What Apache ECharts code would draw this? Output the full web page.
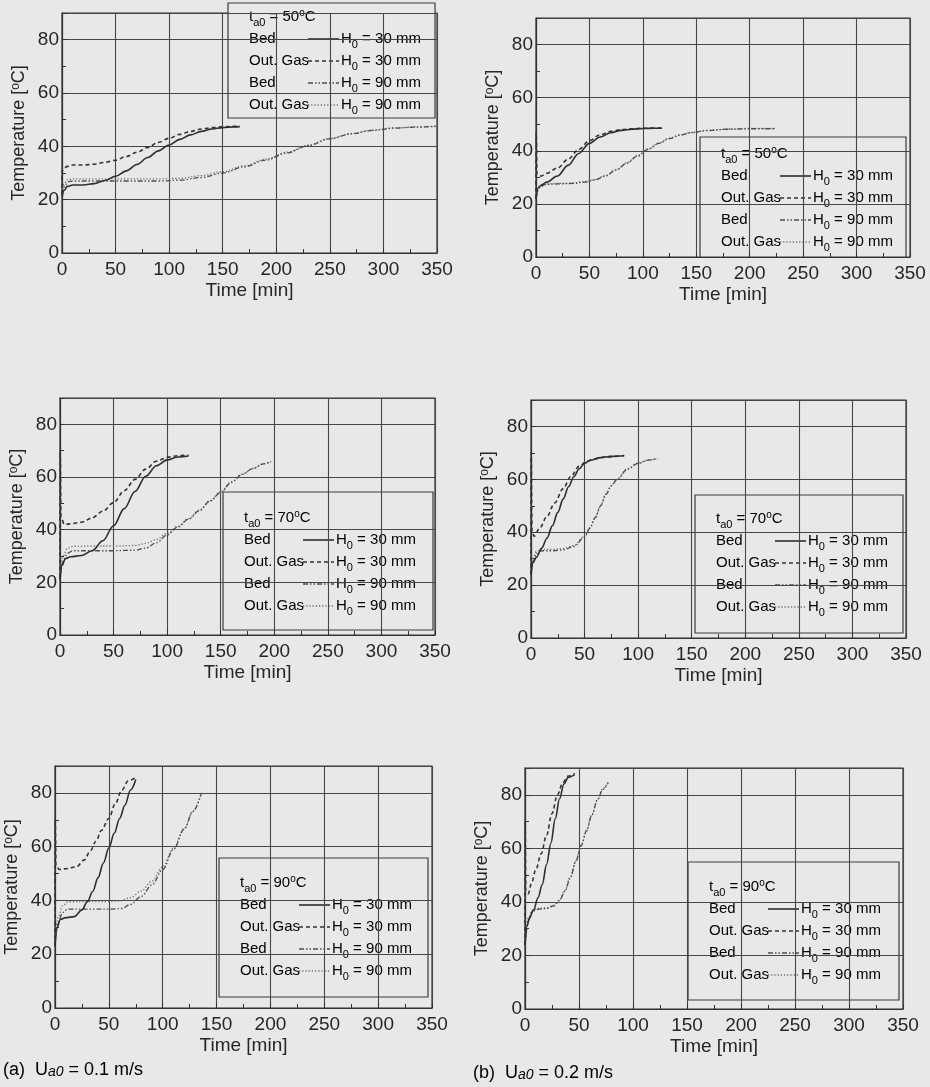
<!DOCTYPE html>
<html><head><meta charset="utf-8">
<script src="https://cdn.jsdelivr.net/npm/echarts@6/dist/echarts.min.js"></script>
<style>html,body{margin:0;padding:0;background:#e8e8e6;} #c{width:930px;height:1087px;}</style>
</head><body><div id="c"></div>
<script>
// ---------- data (time [min], temperature [°C]) ----------
const rowLabels = ['Bed', 'Out. Gas', 'Bed', 'Out. Gas'];
const bedHeights = ['30', '30', '90', '90'];
const inletTemps = [50, 50, 70, 70, 90, 90];
const captions = [['(a)', '0.1'], ['(b)', '0.2']];

// (a) U=0.1 m/s, t=50
const a50_bed30 = [[0,21],[2,23.5],[5,25],[10,25.5],[20,25.5],[30,26],[40,27.2],[50,28.8],[60,30.8],[70,33.2],[80,35.8],[90,38.3],[100,40.5],[110,42.6],[120,44.3],[130,45.6],[140,46.5],[150,47],[160,47.3],[166,47.4]];
const a50_gas30 = [[0,22],[0.3,31],[1.5,31.8],[5,32.5],[10,33],[20,33],[30,33.3],[40,34],[50,34.8],[60,36.2],[70,37.8],[80,39.6],[90,41.5],[100,43],[110,44.5],[120,45.6],[130,46.5],[140,47],[150,47.3],[160,47.5],[166,47.5]];
const a50_bed90 = [[0,22],[3,25.5],[6,26.8],[10,27],[30,27],[60,27],[90,27],[110,27.3],[130,28.3],[150,30],[170,32.3],[190,34.8],[210,37.5],[230,40.3],[250,42.8],[270,44.7],[290,46],[310,46.8],[330,47.2],[350,47.5]];
const a50_gas90 = [[0,23],[2,26],[5,27.5],[10,27.8],[30,27.8],[60,27.8],[90,27.8],[110,28],[130,29],[150,30.5],[170,32.7],[190,35.2],[210,37.8],[230,40.5],[250,43],[270,44.8],[290,46.1],[310,46.9],[330,47.3],[350,47.6]];
// (b) U=0.2 m/s, t=50
const b50_bed30 = [[0,22],[2,26],[5,27],[10,28.2],[20,30.5],[30,34.5],[40,39],[50,42.8],[60,45.2],[70,46.8],[80,47.7],[90,48.1],[100,48.4],[110,48.5],[118,48.5]];
const b50_gas30 = [[0,22],[0.2,47],[0.9,31],[5,30.5],[10,31.5],[20,33.5],[30,36.8],[40,40.5],[50,43.8],[60,46],[70,47.3],[80,48],[90,48.3],[100,48.5],[118,48.6]];
const b50_bed90 = [[0,22],[3,26],[8,27.3],[20,27.5],[35,27.7],[45,28.2],[55,29],[65,30.5],[75,32.7],[85,35.3],[95,38],[105,40.5],[115,42.8],[125,44.6],[135,45.9],[145,46.8],[160,47.6],[180,48.1],[200,48.3],[224,48.3]];
const b50_gas90 = [[0,23],[2,26.5],[6,27.5],[20,27.7],[35,27.9],[45,28.4],[55,29.2],[65,30.7],[75,32.9],[85,35.5],[95,38.2],[105,40.7],[115,43],[125,44.8],[135,46],[145,46.9],[160,47.7],[180,48.2],[200,48.4],[224,48.4]];
// (a) t=70
const a70_bed30 = [[0,21],[2,26.5],[5,29],[10,29.7],[20,30.2],[30,32],[40,35.8],[50,41.5],[60,48],[70,54.5],[80,60.3],[90,64.3],[100,66.5],[110,67.6],[120,68]];
const a70_gas30 = [[0,22],[0.2,70],[0.9,45],[4,42],[10,42.2],[20,42.8],[30,44.5],[40,47],[50,50.3],[60,54.8],[70,59.1],[80,63],[90,66],[100,67.5],[110,68.1],[120,68.3]];
const a70_bed90 = [[0,21],[3,28],[7,31],[12,32],[30,32],[50,32],[70,32.2],[80,33],[90,35],[100,38],[110,41],[120,44],[130,47.2],[140,50.8],[150,54.2],[160,58],[170,61],[180,63.2],[190,65],[197,65.8]];
const a70_gas90 = [[0,23],[3,30],[7,33],[12,33.7],[30,33.8],[50,33.8],[70,34],[80,34.8],[90,36.3],[100,38.6],[110,41.3],[120,44.2],[130,47.4],[140,51],[150,54.4],[160,58.1],[170,61.1],[180,63.3],[190,65.1],[197,65.9]];
// (b) t=70
const b70_bed30 = [[0,24],[2,28.5],[5,30.5],[10,34],[15,37.8],[20,42.5],[25,47.5],[30,52.5],[35,57.2],[40,61],[45,64],[50,66],[55,67.2],[65,68.2],[75,68.7],[87,68.9]];
const b70_gas30 = [[0,24],[0.2,70],[0.9,40],[3,38.5],[8,41.5],[15,46],[22,51],[30,56.5],[37,61],[45,65],[52,66.8],[60,67.8],[70,68.5],[87,69]];
const b70_bed90 = [[0,23],[2,29],[5,32],[10,33],[20,33],[30,33.3],[40,34.6],[50,38.2],[55,41.5],[60,45.5],[65,50],[70,54.3],[75,57.5],[80,59.8],[90,63.8],[100,66],[110,67.3],[118,67.8]];
const b70_gas90 = [[0,24],[2,30],[5,32.8],[10,33.5],[20,33.5],[30,33.8],[40,35],[50,38.5],[55,41.8],[60,45.8],[65,50.2],[70,54.5],[75,57.7],[80,60],[90,64],[100,66.2],[110,67.4],[118,67.9]];
// (a) t=90
const a90_bed30 = [[0,23],[2,30],[5,33],[10,33.6],[18,34],[25,36.5],[30,39.5],[35,43.3],[40,48.5],[45,54],[50,59.5],[55,65],[60,70.5],[65,75.5],[70,81],[75,85]];
const a90_gas30 = [[0,23],[0.2,70],[0.9,53],[4,51.5],[10,51.8],[20,52.5],[27,55],[33,58.5],[38,62],[43,66],[50,70.5],[56,76],[62,81],[68,84.5],[76,86]];
const a90_bed90 = [[0,23],[3,32],[7,35.5],[12,36.8],[30,36.8],[50,36.8],[62,37],[70,38.5],[80,41.5],[90,45.8],[100,51.5],[110,59],[120,66.5],[128,73],[136,80]];
const a90_gas90 = [[0,25],[3,34],[7,38],[12,39.5],[30,39.6],[50,39.6],[60,39.8],[70,41],[80,43.5],[90,47.2],[100,52.5],[110,59.5],[120,66.8],[128,73.2],[136,80]];
// (b) t=90
const b90_bed30 = [[0,24],[2,31],[4,34],[8,37],[12,41.5],[16,46.5],[20,54],[24,62],[28,71],[32,78.5],[36,84],[40,86.5],[46,87.5]];
const b90_gas30 = [[0,24],[0.2,70],[0.7,44],[3,43],[6,47],[10,52],[15,58],[20,65],[25,73],[30,80],[35,84.5],[40,87],[46,88]];
const b90_bed90 = [[0,23],[3,33],[7,36.5],[13,37.3],[20,37.5],[27,38.5],[32,40.5],[37,44],[42,49],[47,55],[52,61],[57,66.5],[62,72.5],[67,78],[72,82],[77,84.5]];
const b90_gas90 = [[0,24],[3,34],[7,37],[13,37.6],[20,37.8],[27,38.8],[32,40.8],[37,44.3],[42,49.3],[47,55.3],[52,61.3],[57,66.8],[62,72.7],[67,78.2],[72,82.2],[77,84.7]];

const panelData = [
  [a50_bed30, a50_gas30, a50_bed90, a50_gas90],
  [b50_bed30, b50_gas30, b50_bed90, b50_gas90],
  [a70_bed30, a70_gas30, a70_bed90, a70_gas90],
  [b70_bed30, b70_gas30, b70_bed90, b70_gas90],
  [a90_bed30, a90_gas30, a90_bed90, a90_gas90],
  [b90_bed30, b90_gas30, b90_bed90, b90_gas90]
];

// ---------- layout & style ----------
const FONT = '"Liberation Sans", Arial, sans-serif';
const INK = '#262626';
const BG = '#e8e8e6';
const layout = [
  {l:62,  t:13,  w:375, h:240, lg:{x:228, y:3,   w:207, h:115, ty:14}},
  {l:536, t:18,  w:374, h:239, lg:{x:700, y:137, w:206, h:120, ty:17}},
  {l:60,  t:398, w:375, h:237, lg:{x:223, y:492, w:210, h:138, ty:26}},
  {l:531, t:400, w:375, h:238, lg:{x:695, y:495, w:208, h:138, ty:24}},
  {l:55,  t:766, w:377, h:242, lg:{x:219, y:858, w:209, h:139, ty:25}},
  {l:525, t:768, w:378, h:241, lg:{x:688, y:862, w:211, h:138, ty:25}}
];
const lineStyles = [
  {color:'#2e2e2e', width:1.6, type:'solid'},
  {color:'#333333', width:1.6, type:[4,3]},
  {color:'#4e4e4e', width:1.3, type:[5,2,1.5,2,1.5,2]},
  {color:'#6a6a6a', width:1.3, type:[1.2,2]}
];

const grids = [], xAxes = [], yAxes = [], series = [], graphics = [];
const richMain = {
  m:{fontSize:15, fontFamily:FONT, color:INK},
  s:{fontSize:11, fontFamily:FONT, color:INK, padding:[12,0,0,0]},
  p:{fontSize:10, fontFamily:FONT, color:INK, padding:[0,0,8,0]}
};

layout.forEach((L, i) => {
  grids.push({left:L.l, top:L.t, width:L.w, height:L.h, show:true, borderColor:'#333', borderWidth:1.2, backgroundColor:'transparent', containLabel:false});
  xAxes.push({
    type:'value', gridIndex:i, min:0, max:350, interval:50,
    name:'Time [min]', nameLocation:'middle', nameGap:28,
    nameTextStyle:{fontSize:19, fontFamily:FONT, color:INK},
    axisLine:{show:true, lineStyle:{color:'#333', width:1.2}},
    axisTick:{show:true, inside:true, length:5, lineStyle:{color:'#333'}},
    minorTick:{show:true, splitNumber:2, length:4, lineStyle:{color:'#333'}},
    axisLabel:{fontSize:19, fontFamily:FONT, color:INK, margin:7},
    splitLine:{show:true, lineStyle:{color:'#474747', width:1.1}}
  });
  yAxes.push({
    type:'value', gridIndex:i, min:0, max:90, interval:20,
    name:'{m|Temperature [}{p|o}{m|C]}', nameLocation:'middle', nameGap:34, nameRotate:90,
    nameTextStyle:{rich:{
      m:{fontSize:18, fontFamily:FONT, color:INK},
      p:{fontSize:12, fontFamily:FONT, color:INK, padding:[0,0,6,0]}
    }},
    axisLine:{show:true, lineStyle:{color:'#333', width:1.2}},
    axisTick:{show:true, inside:true, length:5, lineStyle:{color:'#333'}},
    minorTick:{show:true, splitNumber:2, length:4, lineStyle:{color:'#333'}},
    axisLabel:{fontSize:19, fontFamily:FONT, color:INK, margin:3, showMaxLabel:false},
    splitLine:{show:true, lineStyle:{color:'#474747', width:1.1}}
  });
  const order = [3, 2, 1, 0];
  order.forEach(k => {
    series.push({
      type:'line', xAxisIndex:i, yAxisIndex:i, data:panelData[i][k],
      name: rowLabels[k] + ' H0 = ' + bedHeights[k] + ' mm',
      showSymbol:false, smooth:0.35, smoothMonotone:'x',
      lineStyle:lineStyles[k], z:3 + (3 - k), silent:true, animation:false
    });
  });
  // legend box
  const g = L.lg;
  const children = [];
  children.push({type:'rect', shape:{x:0, y:0, width:g.w, height:g.h},
    style:{fill:BG, stroke:'#3a3a3a', lineWidth:1.2}});
  children.push({type:'text', x:21, y:g.ty, style:{
    text:'{m|t}{s|a0}{m| = ' + inletTemps[i] + '}{p|o}{m|C}', rich:richMain,
    verticalAlign:'middle', align:'left'}});
  for (let k = 0; k < 4; k++) {
    const yy = g.ty + 22 * (k + 1);
    children.push({type:'text', x:21, y:yy, style:{
      text:'{m|' + rowLabels[k] + '}', rich:richMain, verticalAlign:'middle', align:'left'}});
    children.push({type:'line', shape:{x1:80, y1:yy, x2:111, y2:yy},
      style:{stroke:lineStyles[k].color, lineWidth:lineStyles[k].width,
        lineDash: lineStyles[k].type === 'solid' ? null : lineStyles[k].type}});
    children.push({type:'text', x:113, y:yy, style:{
      text:'{m|H}{s|0}{m| = ' + bedHeights[k] + ' mm}', rich:richMain, verticalAlign:'middle', align:'left'}});
  }
  graphics.push({type:'group', x:g.x, y:g.y, z:100, children:children});
});

// captions
const capPos = [[3, 1070], [473, 1073]];
captions.forEach((c, j) => {
  graphics.push({type:'text', x:capPos[j][0], y:capPos[j][1], z:100, style:{
    text:'{m|' + c[0] + '  U}{s|a0}{m| = ' + c[1] + ' m/s}',
    rich:{
      m:{fontSize:18, fontFamily:FONT, color:INK},
      s:{fontSize:14, fontFamily:FONT, fontStyle:'italic', color:INK, padding:[5,0,0,0]}
    },
    verticalAlign:'middle', align:'left'}});
});

const chart = echarts.init(document.getElementById('c'), null, {renderer:'canvas'});
chart.setOption({
  backgroundColor:BG, animation:false,
  grid:grids, xAxis:xAxes, yAxis:yAxes, series:series, graphic:graphics
});
</script></body></html>
